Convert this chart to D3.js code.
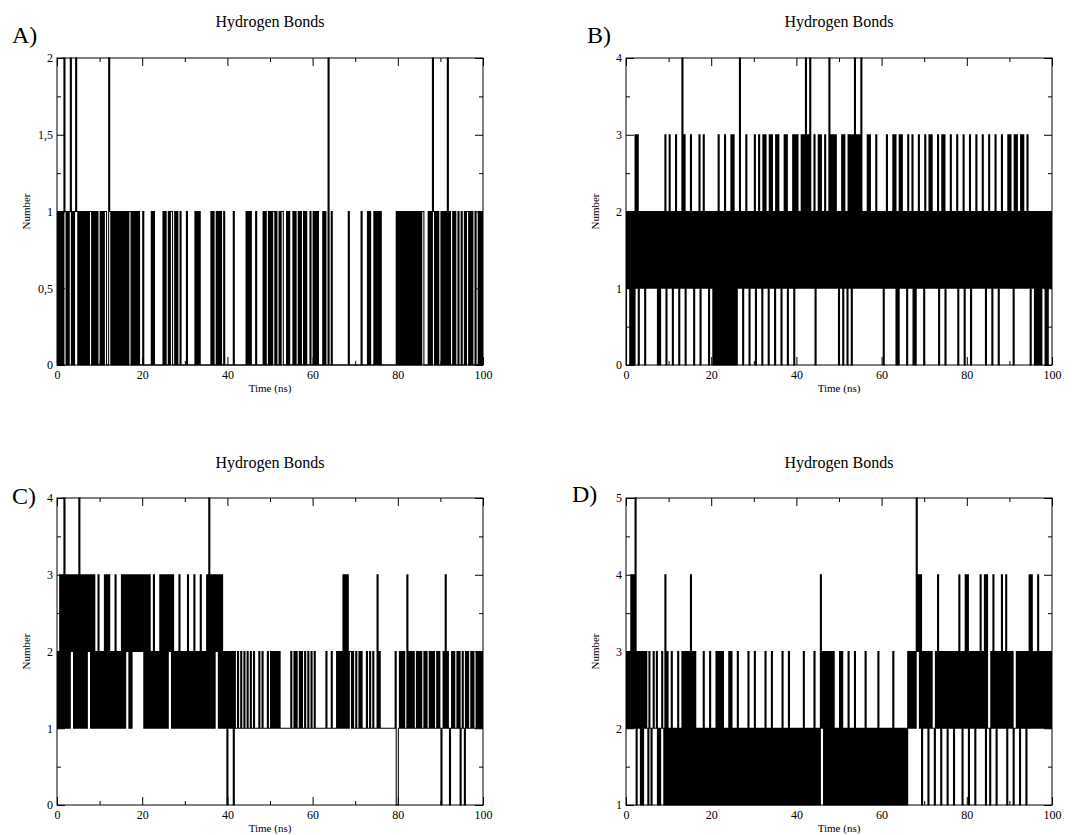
<!DOCTYPE html>
<html lang="en">
<head>
<meta charset="UTF-8">
<title>Hydrogen Bonds</title>
<style>
  body { margin: 0; background: #fff; }
  svg text { font-family: "Liberation Serif", "Times New Roman", serif; fill: #000; }
  .axis path { display: none; }
  .axis line { stroke: #000; stroke-width: 1; }
</style>
</head>
<body>
<svg id="chart" width="1080" height="835"></svg>
<script src="https://d3js.org/d3.v7.min.js"></script>
<script>
// Number of hydrogen bonds, one digit every 0.25 ns (one group of 4 = 1 ns, one string = 10 ns)
const hbondsA = [
  "0101 0102 1010 1201 0121 0101 0101 0101 1010 1010",
  "0101 0110 0210 1010 1010 1010 1010 1101 0101 0100",
  "0100 0000 0101 0000 0000 1010 0101 1001 0100 1000",
  "0010 0000 0010 1010 0000 0000 0101 0010 1010 0100",
  "0000 0010 0000 0000 0010 1010 0001 0000 0010 1001",
  "0101 1010 0101 1000 1010 0010 1001 0100 1010 0010",
  "0101 0100 0010 1002 0010 0000 0000 0000 0010 0000",
  "0000 0010 0000 1010 0010 1010 1000 0000 0000 0001",
  "0101 0101 0101 0101 0101 0101 1000 0101 0210 1010",
  "0101 0102 0100 1010 0100 1001 0110 1010 0100 1010 1"
];
const hbondsB = [
  "0212 0202 0313 0212 1202 1212 1212 1202 0212 1302",
  "1312 0213 1202 1413 0212 1312 0212 1302 1312 1202",
  "1202 0203 0202 0302 0203 0302 0214 1202 1312 0212",
  "1302 1312 0313 1203 1312 0313 1202 1313 0212 1303",
  "1312 1313 1413 1412 1302 1313 1213 1214 1313 1312",
  "0213 0312 0313 0314 1313 1412 1213 1312 1213 1212",
  "1202 1312 1213 1302 0313 1212 0312 1302 0213 1212",
  "0312 1313 1212 1302 1313 0212 1312 1213 0212 1302",
  "1213 0212 1312 1213 1202 1312 0213 1202 1312 1213",
  "1312 0313 1213 1312 1312 0212 0202 0202 1202 0212 1"
];
const hbondsC = [
  "1213 1314 1313 1323 1313 1413 1313 1323 1313 1213",
  "1212 1313 1312 1213 1212 1313 1323 1313 2323 2323",
  "2313 1313 1213 1212 1313 1313 1323 1312 1213 1212",
  "1213 1212 1312 1213 1212 1314 1313 1323 1313 1212",
  "0212 1202 1121 1211 2112 1121 1211 1121 1211 1121",
  "1212 1212 1211 1111 1111 2112 1211 2121 1211 2112",
  "1121 1111 1111 1211 1121 1112 1212 1313 1312 2121",
  "1211 2121 1112 1121 1211 1312 1111 1111 1111 1120",
  "0121 2121 1312 1212 1121 2121 1212 1121 2121 1212",
  "1012 1312 1012 1211 2120 1210 2121 1212 1121 2121 2"
];
const hbondsD = [
  "2323 2424 2513 2313 1323 2132 1232 2312 1232 1413",
  "1213 1212 1312 1313 1313 1413 1312 1212 1312 1213",
  "1212 1313 1313 1212 1313 1212 1312 1212 1213 1212",
  "1312 1212 1213 1212 1312 1212 1213 1212 1312 1212",
  "1212 1213 1212 1212 1312 1214 2313 1313 1313 1212",
  "1313 1212 1312 1213 1212 1212 1312 1212 1212 1312",
  "1212 1212 1213 1212 1212 1212 1323 2323 2534 2413",
  "2323 1323 2213 2423 1323 2313 2323 1323 2423 1324",
  "2413 2323 1323 2423 2414 2213 2423 1323 2423 2413",
  "2323 1223 2313 2323 1324 2423 2324 2323 2323 2323 2"
];

const timeTicks = [0, 20, 40, 60, 80, 100];
const timeMinor = [10, 30, 50, 70, 90];
const yTicksA = [0, 0.5, 1, 1.5, 2];
const yMinorA = [0.25, 0.75, 1.25, 1.75];
const yTicks04 = [0, 1, 2, 3, 4];
const yMinor04 = [0.5, 1.5, 2.5, 3.5];
const yTicks15 = [1, 2, 3, 4, 5];
const yMinor15 = [1.5, 2.5, 3.5, 4.5];

const panels = [
  { letter: "A)", rows: hbondsA, y: [0, 2], ticks: yTicksA, minor: yMinorA,
    left: 57, top: 58, letterX: 12, letterY: 43, titleY: 27 },
  { letter: "B)", rows: hbondsB, y: [0, 4], ticks: yTicks04, minor: yMinor04,
    left: 626, top: 58, letterX: 587, letterY: 43, titleY: 27 },
  { letter: "C)", rows: hbondsC, y: [0, 4], ticks: yTicks04, minor: yMinor04,
    left: 57, top: 498, letterX: 12, letterY: 504, titleY: 468 },
  { letter: "D)", rows: hbondsD, y: [1, 5], ticks: yTicks15, minor: yMinor15,
    left: 626, top: 498, letterX: 572, letterY: 502, titleY: 468 }
];

const W = 426, H = 307;
const svg = d3.select("#chart");
const fmt = d => String(d).replace(".", ",");

panels.forEach(p => {
  const vals = p.rows.join("").replace(/\s/g, "").split("").map(Number);
  const step = 100 / (vals.length - 1);
  const series = vals.map((v, i) => ({ t: i * step, v: v }));

  const x = d3.scaleLinear().domain([0, 100]).range([0, W]);
  const y = d3.scaleLinear().domain(p.y).range([H, 0]);

  const g = svg.append("g").attr("transform", `translate(${p.left},${p.top})`);

  g.append("path")
    .datum(series)
    .attr("fill", "none")
    .attr("stroke", "#000")
    .attr("stroke-width", 1.05)
    .attr("d", d3.line().curve(d3.curveStep).x(d => x(d.t)).y(d => y(d.v)));

  // major / minor ticks, pointing inward on all four sides
  g.append("g").attr("class", "axis").attr("transform", `translate(0,${H})`)
    .call(d3.axisBottom(x).tickValues(timeTicks).tickSize(-8).tickPadding(5).tickFormat(d3.format("d")))
    .selectAll("text").style("font-size", "12px");
  g.append("g").attr("class", "axis").attr("transform", `translate(0,${H})`)
    .call(d3.axisBottom(x).tickValues(timeMinor).tickSize(-4).tickFormat(""));
  g.append("g").attr("class", "axis")
    .call(d3.axisTop(x).tickValues(timeTicks).tickSize(-8).tickFormat(""));
  g.append("g").attr("class", "axis")
    .call(d3.axisTop(x).tickValues(timeMinor).tickSize(-4).tickFormat(""));

  g.append("g").attr("class", "axis")
    .call(d3.axisLeft(y).tickValues(p.ticks).tickSize(-8).tickPadding(4).tickFormat(fmt))
    .selectAll("text").style("font-size", "12px");
  g.append("g").attr("class", "axis")
    .call(d3.axisLeft(y).tickValues(p.minor).tickSize(-4).tickFormat(""));
  g.append("g").attr("class", "axis").attr("transform", `translate(${W},0)`)
    .call(d3.axisRight(y).tickValues(p.ticks).tickSize(-8).tickFormat(""));
  g.append("g").attr("class", "axis").attr("transform", `translate(${W},0)`)
    .call(d3.axisRight(y).tickValues(p.minor).tickSize(-4).tickFormat(""));

  g.append("rect")
    .attr("width", W).attr("height", H)
    .attr("fill", "none").attr("stroke", "#000").attr("stroke-width", 1);

  g.append("text")
    .attr("x", W / 2).attr("y", H + 27)
    .attr("text-anchor", "middle")
    .style("font-size", "11px")
    .text("Time (ns)");

  g.append("text")
    .attr("transform", `translate(-27,${H / 2}) rotate(-90)`)
    .attr("text-anchor", "middle")
    .style("font-size", "11px")
    .text("Number");

  svg.append("text")
    .attr("x", p.left + W / 2).attr("y", p.titleY)
    .attr("text-anchor", "middle")
    .style("font-size", "16px")
    .text("Hydrogen Bonds");

  svg.append("text")
    .attr("x", p.letterX).attr("y", p.letterY)
    .style("font-size", "24px")
    .text(p.letter);
});
</script>
</body>
</html>
